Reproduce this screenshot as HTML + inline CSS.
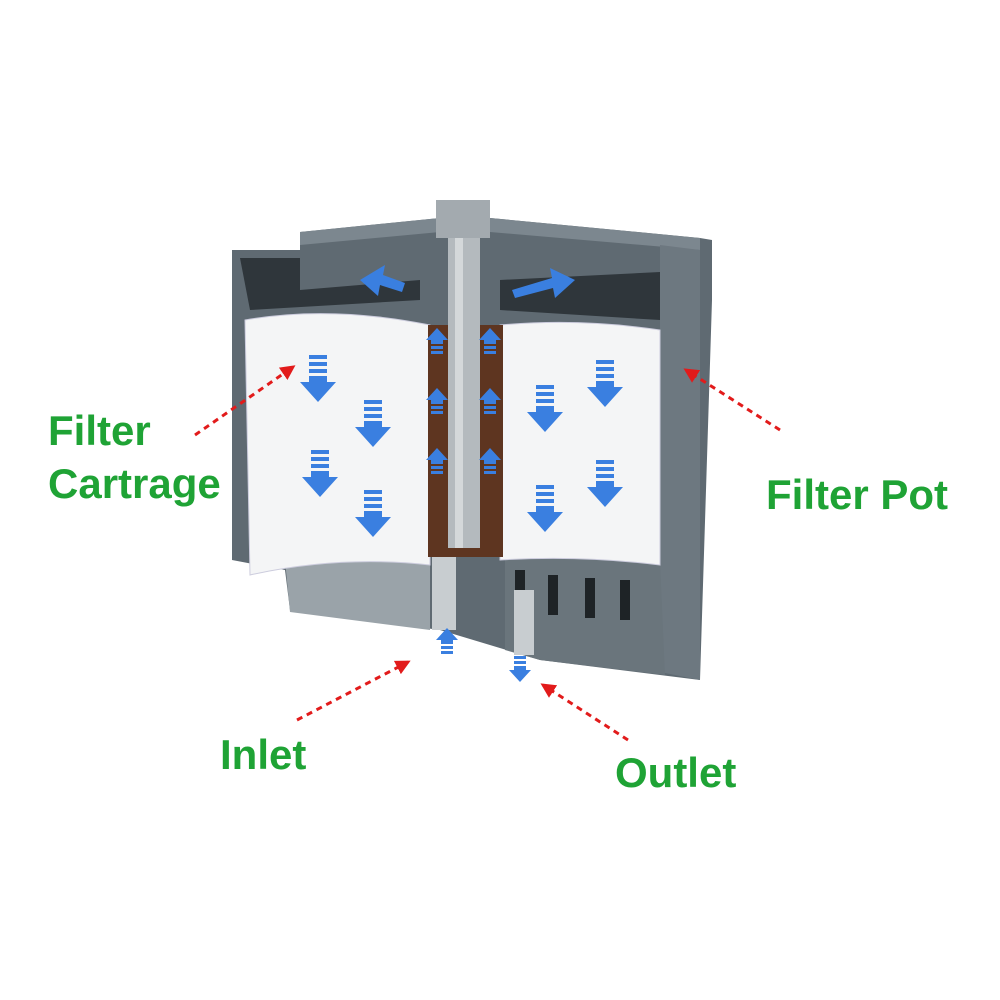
<!DOCTYPE html>
<html><head><meta charset="utf-8"><style>
html,body{margin:0;padding:0;background:#fff;}
svg{display:block}
text{font-family:"Liberation Sans",sans-serif;font-weight:bold;fill:#1fa335;}
</style></head><body>
<svg width="1000" height="1000" viewBox="0 0 1000 1000" xmlns="http://www.w3.org/2000/svg">
<defs>
<marker id="rh" viewBox="0 0 10 10" refX="8" refY="5" markerWidth="5" markerHeight="5" orient="auto"><path d="M0,0 L10,5 L0,10 z" fill="#e21b1b"/></marker>
<g id="da"><rect x="-9" y="-30" width="18" height="4" fill="#3a7fe0"/><rect x="-9" y="-23" width="18" height="4" fill="#3a7fe0"/><rect x="-9" y="-16" width="18" height="4" fill="#3a7fe0"/><rect x="-9" y="-9" width="18" height="6" fill="#3a7fe0"/><path d="M-18,-3 L18,-3 L0,17 z" fill="#3a7fe0"/></g>
<g id="ua"><path d="M-11,0 L11,0 L0,-12 z" fill="#3a7fe0"/><rect x="-6" y="0" width="12" height="4" fill="#3a7fe0"/><rect x="-6" y="6" width="12" height="3" fill="#3a7fe0"/><rect x="-6" y="11" width="12" height="3" fill="#3a7fe0"/></g>
</defs>
<path d="M232,250 L300,250 L300,232 L440,218 L490,218 L700,238 L712,240 L712,300 L700,680 L540,660 L440,630 L290,610 L285,570 L232,560 Z" fill="#5f6a72"/>
<path d="M300,232 L440,218 L490,218 L700,238 L700,250 L490,232 L440,232 L300,245 Z" fill="#7c878f"/>
<path d="M240,258 L300,258 L300,290 L420,280 L420,300 L250,310 Z" fill="#2f363b"/>
<path d="M500,280 L660,272 L660,320 L500,310 Z" fill="#2f363b"/>
<path d="M660,245 L700,250 L700,680 L660,672 Z" fill="#6d7880"/>
<path d="M285,560 L430,560 L430,630 L290,612 Z" fill="#9aa3a9"/>
<path d="M505,555 L660,560 L665,675 L540,660 L505,650 Z" fill="#6a757c"/>
<rect x="515" y="570" width="10" height="40" fill="#1e2326"/>
<rect x="548" y="575" width="10" height="40" fill="#1e2326"/>
<rect x="585" y="578" width="10" height="40" fill="#1e2326"/>
<rect x="620" y="580" width="10" height="40" fill="#1e2326"/>
<rect x="432" y="520" width="24" height="110" fill="#c8cdd0"/>
<rect x="514" y="590" width="20" height="65" fill="#c8cdd0"/>
<path d="M245,320 Q330,305 430,325 L430,565 Q340,555 250,575 Z" fill="#f4f5f6" stroke="#ccd" stroke-width="1"/>
<path d="M500,325 Q580,318 660,330 L660,565 Q580,555 500,560 Z" fill="#f4f5f6" stroke="#ccd" stroke-width="1"/>
<rect x="428" y="325" width="75" height="232" fill="#5e3520"/>
<rect x="436" y="200" width="54" height="38" fill="#a3aaaf"/>
<rect x="448" y="238" width="32" height="310" fill="#b4babe"/>
<rect x="455" y="238" width="8" height="310" fill="#d4d8da"/>
<use href="#da" x="318" y="385"/>
<use href="#da" x="373" y="430"/>
<use href="#da" x="320" y="480"/>
<use href="#da" x="373" y="520"/>
<use href="#da" x="545" y="415"/>
<use href="#da" x="605" y="390"/>
<use href="#da" x="545" y="515"/>
<use href="#da" x="605" y="490"/>
<use href="#ua" x="437" y="340"/><use href="#ua" x="490" y="340"/>
<use href="#ua" x="437" y="400"/><use href="#ua" x="490" y="400"/>
<use href="#ua" x="437" y="460"/><use href="#ua" x="490" y="460"/>
<use href="#ua" x="447" y="640"/>
<g transform="translate(520,670) rotate(180)"><use href="#ua" x="0" y="0"/></g>
<path d="M360,280 L385,265 L383,275 L405,283 L402,292 L380,285 L378,296 Z" fill="#3a7fe0"/>
<path d="M575,280 L550,268 L552,278 L512,290 L515,298 L553,288 L555,298 Z" fill="#3a7fe0"/>
<g stroke="#e21b1b" stroke-width="3" stroke-dasharray="6,5" fill="none" marker-end="url(#rh)">
<line x1="195" y1="435" x2="293" y2="367"/>
<line x1="780" y1="430" x2="686" y2="370"/>
<line x1="297" y1="720" x2="408" y2="662"/>
<line x1="628" y1="740" x2="543" y2="685"/>
</g>
<text x="48" y="445" font-size="42">Filter</text>
<text x="48" y="498" font-size="42">Cartrage</text>
<text x="766" y="509" font-size="42">Filter Pot</text>
<text x="220" y="769" font-size="42">Inlet</text>
<text x="615" y="787" font-size="42">Outlet</text>
</svg>
</body></html>
